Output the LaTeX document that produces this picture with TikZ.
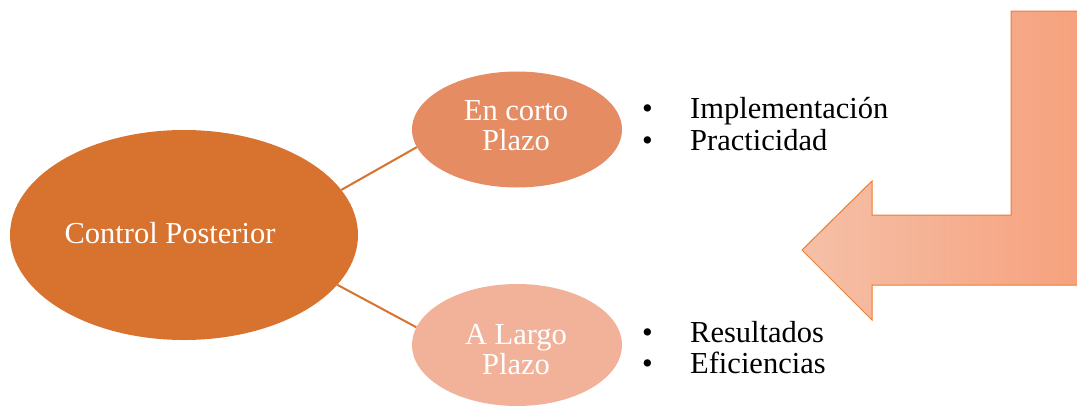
\documentclass[tikz,border=0pt]{standalone}
\usepackage{fontspec}
\setmainfont{Liberation Serif}
\usetikzlibrary{shapes.geometric}
\definecolor{mainfill}{RGB}{216,114,47}
\definecolor{topfill}{RGB}{229,140,99}
\definecolor{botfill}{RGB}{242,178,154}
\definecolor{linecol}{RGB}{216,114,47}
\definecolor{arrowL}{RGB}{245,192,168}
\definecolor{arrowR}{RGB}{246,160,124}
\definecolor{arrowEdge}{RGB}{237,125,49}
\tikzset{
  bubble/.style={ellipse, inner sep=0pt},
  bubbletext/.style={inner sep=0pt, text=white, align=center,
    font=\fontsize{30.5}{30}\selectfont},
  link/.style={draw=linecol, line width=2pt},
  itemtext/.style={anchor=base west, inner sep=0pt, font=\fontsize{30.5}{31}\selectfont},
}
\begin{document}
\begin{tikzpicture}[x=1pt,y=-1pt]
\useasboundingbox (0,0) rectangle (1077,408);
\clip (0,0) rectangle (1077,408);
% bent arrow
\shade[left color=arrowL, right color=arrowR]
  (802,250) -- (872,181) -- (872,215) -- (1011,215) -- (1011,11) -- (1090,11)
  -- (1090,285) -- (872,285) -- (872,320) -- cycle;
\draw[arrowEdge, line width=1pt, line join=miter]
  (802,250) -- (872,181) -- (872,215) -- (1011,215) -- (1011,11) -- (1090,11)
  -- (1090,285) -- (872,285) -- (872,320) -- cycle;
% ellipses
\node[bubble, fill=mainfill, minimum width=348pt, minimum height=210pt] (main) at (184,235) {};
\node[bubble, fill=topfill, minimum width=210pt, minimum height=116pt] (short) at (517,129.5) {};
\node[bubble, fill=botfill, minimum width=210pt, minimum height=122pt] (long) at (517,345) {};
\node[bubbletext] (maintext) at (170,233) {Control Posterior};
\node[bubbletext] (shorttext) at (516,125.5) {En corto\\Plazo};
\node[bubbletext] (longtext) at (516,350) {A Largo\\Plazo};
\draw[link] (main.16.5) -- (short.190);
\draw[link] (main.-18) -- (long.170);
% bullet lists
\node[itemtext] (b1) at (642,118) {\textbullet};
\node[itemtext] (t1) at (690,118) {Implementación};
\node[itemtext] (b2) at (642,150) {\textbullet};
\node[itemtext] (t2) at (690,150) {Practicidad};
\node[itemtext] (b3) at (642,342) {\textbullet};
\node[itemtext] (t3) at (690,342) {Resultados};
\node[itemtext] (b4) at (642,373) {\textbullet};
\node[itemtext] (t4) at (690,373) {Eficiencias};
\end{tikzpicture}
\end{document}
